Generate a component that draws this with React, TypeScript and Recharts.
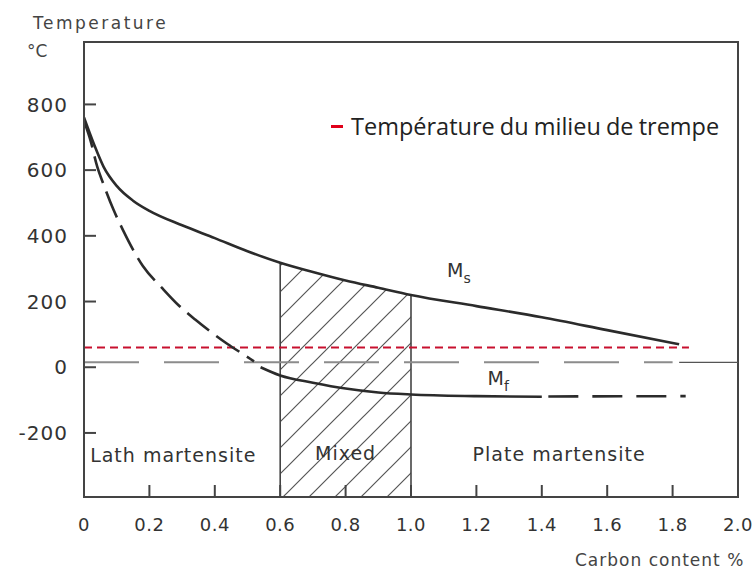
import {
  ComposedChart,
  Line,
  Area,
  XAxis,
  YAxis,
  ReferenceLine,
  ReferenceArea,
  ReferenceDot,
  Legend,
} from 'recharts'

// Ms / Mf vs carbon content (%C, °C)
const msCurve = [
  { c: 0, t: 760 },
  { c: 0.03, t: 680 },
  { c: 0.06, t: 610 },
  { c: 0.1, t: 552 },
  { c: 0.15, t: 507 },
  { c: 0.2, t: 476 },
  { c: 0.3, t: 432 },
  { c: 0.4, t: 393 },
  { c: 0.5, t: 353 },
  { c: 0.6, t: 318 },
  { c: 0.7, t: 290 },
  { c: 0.8, t: 264 },
  { c: 0.9, t: 242 },
  { c: 1.0, t: 220 },
  { c: 1.2, t: 186 },
  { c: 1.4, t: 152 },
  { c: 1.6, t: 113 },
  { c: 1.82, t: 70 },
]

const mfDashed = [
  { c: 0, t: 750 },
  { c: 0.02, t: 690 },
  { c: 0.04, t: 612 },
  { c: 0.06, t: 556 },
  { c: 0.09, t: 480 },
  { c: 0.12, t: 416 },
  { c: 0.18, t: 308 },
  { c: 0.24, t: 240 },
  { c: 0.29, t: 188 },
  { c: 0.34, t: 145 },
  { c: 0.39, t: 106 },
  { c: 0.44, t: 70 },
  { c: 0.48, t: 44 },
  { c: 0.52, t: 18 },
]

const mfSolid = [
  { c: 0.54, t: 0 },
  { c: 0.6, t: -25 },
  { c: 0.7, t: -47 },
  { c: 0.8, t: -65 },
  { c: 0.9, t: -77 },
  { c: 1.0, t: -83 },
  { c: 1.2, t: -88 },
  { c: 1.4, t: -90 },
]

const mfTail = [
  { c: 1.42, t: -89 },
  { c: 1.84, t: -88 },
]

const mixedZone = [0.6, 1.0]
const quenchTemp = 60
const quenchEnd = 1.85
const roomTemp = 15
const roomDashEnd = 1.8

const xTicks = [0, 0.2, 0.4, 0.6, 0.8, 1.0, 1.2, 1.4, 1.6, 1.8, 2.0]
const yTicks = [-200, 0, 200, 400, 600, 800]
const yDomain = [-395, 990]

const ink = '#333'
const font = '"DejaVu Sans", sans-serif'

const msAt = (c: number) => msCurve.find((p) => p.c === c)?.t ?? 0

const SubLabel = ({ viewBox, sub }: any) => (
  <text x={viewBox.x} y={viewBox.y} fill={ink} fontFamily={font} fontSize={19}>
    M
    <tspan dy={6} fontSize={14}>
      {sub}
    </tspan>
  </text>
)

const LegendContent = () => (
  <div
    style={{
      display: 'flex',
      alignItems: 'center',
      fontFamily: '"Open Sans", sans-serif',
      fontSize: 23.5,
      color: '#222',
      letterSpacing: 0,
      wordSpacing: -1,
      whiteSpace: 'nowrap',
      lineHeight: 1,
    }}
  >
    <span
      style={{
        display: 'inline-block',
        width: 12,
        height: 3,
        background: '#e0001a',
        marginRight: 8,
      }}
    />
    Température du milieu de trempe
  </div>
)

const regionLabel = (value: string) => ({
  value,
  position: 'center' as const,
  fill: ink,
  fontSize: 19,
  fontFamily: font,
  letterSpacing: 1,
})

export default function App() {
  return (
    <div style={{ position: 'absolute', left: 0, top: 0, width: 756, height: 571, background: '#fff' }}>
      <ComposedChart
        width={756}
        height={571}
        margin={{ top: 42, right: 18, left: 0, bottom: 34 }}
      >
        <defs>
          <pattern id="hatch" patternUnits="userSpaceOnUse" width={26} height={26}>
            <path
              d="M0,26 L26,0 M-6.5,6.5 L6.5,-6.5 M19.5,32.5 L32.5,19.5"
              stroke="#555"
              strokeWidth={1.2}
            />
          </pattern>
        </defs>

        <XAxis
          type="number"
          dataKey="c"
          domain={[0, 2]}
          ticks={xTicks}
          tickFormatter={(v: number) => (v === 0 ? '0' : v.toFixed(1))}
          axisLine={{ stroke: '#444', strokeWidth: 2 }}
          tickLine={{ stroke: '#444', strokeWidth: 2 }}
          tickSize={-12}
          tickMargin={33}
          height={40}
          tick={{ fill: ink, fontSize: 18, fontFamily: font, letterSpacing: 0.5 }}
          allowDataOverflow
        />
        <YAxis
          type="number"
          domain={yDomain}
          ticks={yTicks}
          axisLine={{ stroke: '#444', strokeWidth: 2 }}
          tickLine={{ stroke: '#444', strokeWidth: 2 }}
          tickSize={-12}
          tickMargin={28}
          width={84}
          tick={{ fill: ink, fontSize: 20, fontFamily: font, letterSpacing: 1 }}
          allowDataOverflow
        />

        {/* cadre */}
        <ReferenceArea
          x1={0}
          x2={2}
          y1={yDomain[0]}
          y2={yDomain[1]}
          fill="none"
          stroke="#444"
          strokeWidth={2}
        />

        {/* zone mixte hachurée */}
        <Area
          data={msCurve.filter((p) => p.c >= mixedZone[0] && p.c <= mixedZone[1])}
          dataKey="t"
          type="monotone"
          baseValue="dataMin"
          fill="url(#hatch)"
          fillOpacity={1}
          stroke="none"
          isAnimationActive={false}
        />
        {mixedZone.map((c) => (
          <ReferenceLine
            key={c}
            segment={[
              { x: c, y: yDomain[0] },
              { x: c, y: msAt(c) },
            ]}
            stroke="#444"
            strokeWidth={1.6}
          />
        ))}

        {/* lignes horizontales */}
        <ReferenceLine
          segment={[
            { x: 0, y: roomTemp },
            { x: roomDashEnd, y: roomTemp },
          ]}
          stroke="#8c8c8c"
          strokeWidth={2}
          strokeDasharray="55 25"
        />
        <ReferenceLine
          segment={[
            { x: roomDashEnd + 0.02, y: roomTemp },
            { x: 2, y: roomTemp },
          ]}
          stroke="#555"
          strokeWidth={1.3}
        />
        <ReferenceLine
          segment={[
            { x: 0, y: quenchTemp },
            { x: quenchEnd, y: quenchTemp },
          ]}
          stroke="#c8102e"
          strokeWidth={2}
          strokeDasharray="8 5"
        />

        <Line
          data={msCurve}
          dataKey="t"
          type="monotone"
          stroke="#2b2b2b"
          strokeWidth={2.6}
          dot={false}
          isAnimationActive={false}
        />
        <Line
          data={mfDashed}
          dataKey="t"
          type="monotone"
          stroke="#2b2b2b"
          strokeWidth={2.6}
          strokeDasharray="28 9"
          dot={false}
          isAnimationActive={false}
        />
        <Line
          data={mfSolid}
          dataKey="t"
          type="monotone"
          stroke="#2b2b2b"
          strokeWidth={2.6}
          dot={false}
          isAnimationActive={false}
        />
        <Line
          data={mfTail}
          dataKey="t"
          type="linear"
          stroke="#2b2b2b"
          strokeWidth={2.6}
          strokeDasharray="30 14"
          dot={false}
          isAnimationActive={false}
        />

        <ReferenceDot x={1.11} y={274} r={0} fill="none" stroke="none" label={<SubLabel sub="s" />} />
        <ReferenceDot x={1.234} y={-55} r={0} fill="none" stroke="none" label={<SubLabel sub="f" />} />

        <ReferenceDot x={0.273} y={-267} r={0} fill="none" stroke="none" label={regionLabel('Lath martensite')} />
        <ReferenceDot x={0.8} y={-261} r={0} fill="none" stroke="none" label={regionLabel('Mixed')} />
        <ReferenceDot x={1.453} y={-264} r={0} fill="none" stroke="none" label={regionLabel('Plate martensite')} />

        <Legend
          layout="vertical"
          align="center"
          verticalAlign="middle"
          content={<LegendContent />}
          wrapperStyle={{ position: 'absolute', left: 331, top: 115, width: 'auto' }}
        />
      </ComposedChart>

      <svg
        width={756}
        height={571}
        style={{ position: 'absolute', left: 0, top: 0, pointerEvents: 'none' }}
      >
        <text x={33} y={29} fill="#444" fontFamily={font} fontSize={17} letterSpacing={2.5}>
          Temperature
        </text>
        <text x={27} y={57} fill="#444" fontFamily={font} fontSize={17}>
          °C
        </text>
        <text x={575} y={566} fill="#444" fontFamily={font} fontSize={17} letterSpacing={1}>
          Carbon content %
        </text>
      </svg>
    </div>
  )
}
